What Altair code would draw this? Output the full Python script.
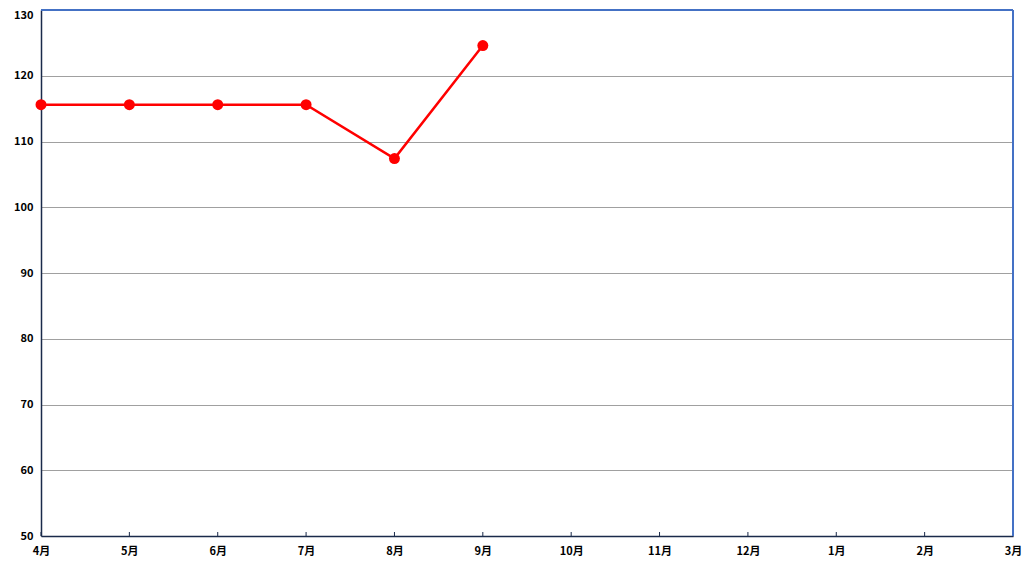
import altair as alt
import pandas as pd

months = ["4月", "5月", "6月", "7月", "8月", "9月", "10月", "11月", "12月", "1月", "2月", "3月"]
values = [115.6, 115.6, 115.6, 115.6, 107.4, 124.6]

df = pd.DataFrame({"month": months[:len(values)], "value": values})
all_months = pd.DataFrame({"month": months})

W, H = 972, 526
FONT = "Noto Sans CJK JP"

xscale = alt.Scale(type="point", domain=months, padding=0)
yscale = alt.Scale(domain=[50, 130], nice=False)

base_x = alt.X("month:N", sort=months, scale=xscale, title=None,
               axis=alt.Axis(labelAngle=0, labelAlign="center", labelBaseline="top",
                             ticks=False, domainColor="#1a2a4a", domainWidth=1.5,
                             labelFont=FONT, labelFontSize=11, labelFontWeight="bold",
                             labelColor="#000000", labelPadding=9, grid=False))
base_y = alt.Y("value:Q", scale=yscale, title=None,
               axis=alt.Axis(values=list(range(50, 131, 10)), ticks=False, domainColor="#1a2a4a",
                             domainWidth=1.5, gridColor="#a0a0a0", gridWidth=1,
                             labelFont=FONT, labelFontSize=11, labelFontWeight="bold",
                             labelAlign="right", labelBaseline="middle",
                             labelColor="#000000", labelPadding=8,
                             labelOffset={"expr": "datum.value == 130 ? 5 : 0"}))

line = alt.Chart(df).mark_line(color="#ff0000", strokeWidth=2.5).encode(x=base_x, y=base_y)
pts = alt.Chart(df).mark_point(filled=True, color="#ff0000", size=120, opacity=1).encode(
    x=alt.X("month:N", sort=months, scale=xscale), y=alt.Y("value:Q", scale=yscale))

ticks = alt.Chart(all_months).mark_rule(color="#1a2a4a", strokeWidth=1).encode(
    x=alt.X("month:N", sort=months, scale=xscale), y=alt.value(H), y2=alt.value(H - 4))

top = alt.Chart(all_months).mark_rule(color="#4472c4", strokeWidth=1.5).encode(
    x=alt.value(0), x2=alt.value(W), y=alt.value(0))
right = alt.Chart(all_months).mark_rule(color="#4472c4", strokeWidth=1.5).encode(
    x=alt.value(W), y=alt.value(0), y2=alt.value(H))

chart = alt.layer(line, pts, ticks, top, right).properties(
    width=W, height=H,
    autosize=alt.AutoSizeParams(type="none"),
    padding={"left": 33, "top": 2, "right": 10, "bottom": 20},
).configure_view(stroke=None).configure(background="#ffffff")

chart.save("out.html", embed_options={"renderer": "svg", "actions": False})
